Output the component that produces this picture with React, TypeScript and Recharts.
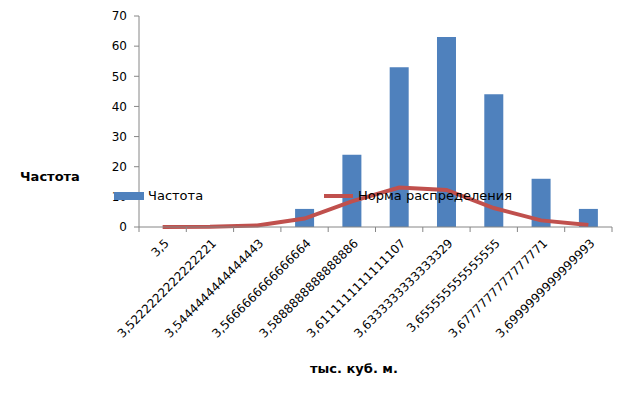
import React from 'react';
import { ComposedChart, Bar, Line, XAxis, YAxis, Legend, Label } from 'recharts';

const categories = [
  '3,5',
  '3,5222222222222221',
  '3,5444444444444443',
  '3,5666666666666664',
  '3,5888888888888886',
  '3,6111111111111107',
  '3,6333333333333329',
  '3,655555555555555',
  '3,6777777777777771',
  '3,6999999999999993',
];
const frequency = [0, 0, 0, 6, 24, 53, 63, 44, 16, 6];
const normal = [0, 0.05, 0.5, 2.8, 8.5, 13.1, 12.3, 6.3, 2.2, 0.7];
const yTicks = [0, 10, 20, 30, 40, 50, 60, 70];

const data = categories.map((c, i) => ({ cat: c, freq: frequency[i], norm: normal[i] }));

const FONT = 'DejaVu Sans, sans-serif';
const AXIS = '#868686';
const BLUE = '#4F81BD';
const RED = '#C0504D';
const CHART_W = 624;
const MARGIN_R = 12;
const Y_W = 139;

const CatTick = (props: any) => {
  const { x, y, payload, index } = props;
  const half =
    payload && typeof payload.offset === 'number' && payload.offset > 0
      ? payload.offset
      : (CHART_W - Y_W - MARGIN_R) / categories.length / 2;
  const ax = x + 7;
  const ay = y + 17;
  const isLast = index === categories.length - 1;
  return (
    <g>
      <line x1={x - half} y1={y} x2={x - half} y2={y + 5} stroke={AXIS} />
      {isLast && <line x1={x + half} y1={y} x2={x + half} y2={y + 5} stroke={AXIS} />}
      <text
        x={ax}
        y={ay}
        transform={`rotate(-45 ${ax} ${ay})`}
        textAnchor="end"
        fontFamily={FONT}
        fontSize={12}
        fill="#000"
      >
        {payload.value}
      </text>
    </g>
  );
};

const LegendContent = () => (
  <div style={{ position: 'relative', width: 420, height: 16, fontFamily: FONT, fontSize: 13, color: '#000' }}>
    <div style={{ position: 'absolute', left: 0, top: 4, width: 30, height: 8, background: BLUE }} />
    <span style={{ position: 'absolute', left: 34, top: 0, lineHeight: '16px', whiteSpace: 'nowrap' }}>Частота</span>
    <div style={{ position: 'absolute', left: 210, top: 6, width: 29, height: 4, background: RED }} />
    <span style={{ position: 'absolute', left: 244, top: 0, lineHeight: '16px', whiteSpace: 'nowrap' }}>Норма распределения</span>
  </div>
);

export default function App() {
  return (
    <div style={{ position: 'absolute', left: 0, top: 0, width: CHART_W, height: 393, background: '#fff' }}>
      <ComposedChart
        width={CHART_W}
        height={393}
        data={data}
        margin={{ top: 16, right: MARGIN_R, bottom: 10, left: 0 }}
        barCategoryGap="30%"
      >
        <XAxis
          dataKey="cat"
          type="category"
          height={140}
          axisLine={{ stroke: AXIS }}
          tickLine={false}
          tickSize={0}
          tickMargin={0}
          interval={0}
          tick={<CatTick />}
        >
          <Label
            content={() => (
              <text x={354} y={373} textAnchor="middle" fontFamily={FONT} fontSize={13} fontWeight="bold" fill="#000">
                тыс. куб. м.
              </text>
            )}
          />
        </XAxis>
        <YAxis
          width={Y_W}
          domain={[0, 70]}
          ticks={yTicks}
          axisLine={{ stroke: AXIS }}
          tickLine={{ stroke: AXIS }}
          tickSize={5}
          tickMargin={7}
          tick={{ fontFamily: FONT, fontSize: 12, fill: '#000' }}
        >
          <Label
            content={() => (
              <text x={50} y={181} textAnchor="middle" fontFamily={FONT} fontSize={13} fontWeight="bold" fill="#000">
                Частота
              </text>
            )}
          />
        </YAxis>
        <Legend
          content={<LegendContent />}
          wrapperStyle={{ position: 'absolute', left: 114, top: 188, width: 420 }}
        />
        <Bar dataKey="freq" name="Частота" fill={BLUE} isAnimationActive={false} />
        <Line
          dataKey="norm"
          name="Норма распределения"
          type="linear"
          stroke={RED}
          strokeWidth={4}
          dot={false}
          activeDot={false}
          isAnimationActive={false}
        />
      </ComposedChart>
    </div>
  );
}
